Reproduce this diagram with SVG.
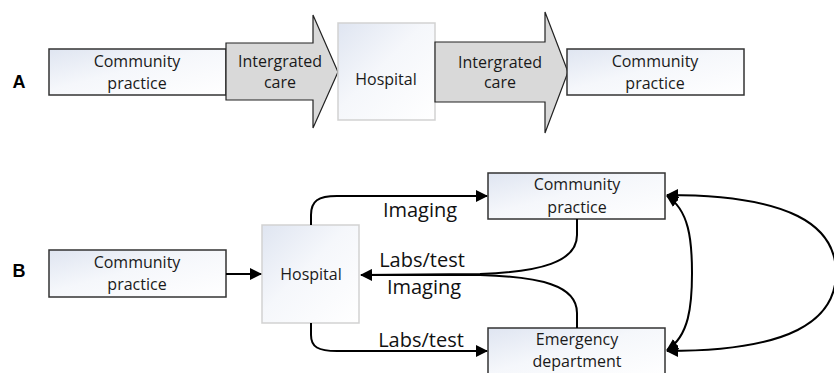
<svg xmlns="http://www.w3.org/2000/svg" width="834" height="373" viewBox="0 0 834 373">
<defs>
<linearGradient id="boxfill" x1="0" y1="0" x2="1" y2="1">
<stop offset="0" stop-color="#dfe5f1"/>
<stop offset="0.45" stop-color="#f5f7fb"/>
<stop offset="1" stop-color="#ffffff"/>
</linearGradient>
<marker id="ah" viewBox="0 0 12 12" refX="11" refY="6" markerWidth="12" markerHeight="12" markerUnits="userSpaceOnUse" orient="auto-start-reverse">
<path d="M0,0 L12,6 L0,12 Z" fill="#000"/>
</marker>
</defs>
<style>
.box{fill:url(#boxfill);stroke:#333;stroke-width:1.5}
.hosp{fill:url(#boxfill);stroke:#d2d2d2;stroke-width:1.5}
.arr{fill:#d9d9d9;stroke:#222;stroke-width:1.2;stroke-linejoin:miter}
.t{font-family:"Open Sans","Liberation Sans",sans-serif;font-size:16px;fill:#1a1a1a;text-anchor:middle}
.lbl{font-family:"Open Sans","Liberation Sans",sans-serif;font-size:20px;fill:#111;text-anchor:middle}
.pl{font-family:"Liberation Sans",Arial,sans-serif;font-size:18px;font-weight:bold;fill:#000;text-anchor:middle}
.c{fill:none;stroke:#000;stroke-width:2}
</style>
<text class="pl" x="19" y="88">A</text>
<text class="pl" x="19" y="277">B</text>
<g id="a-community1">
<rect class="box" x="49" y="49" width="177" height="46"/>
<text class="t" x="137" y="67">Community</text>
<text class="t" x="137" y="89">practice</text>
</g>
<g id="a-integrated1">
<path class="arr" d="M226,43 H313 V15 L338,72 L313,128 V100 H226 Z"/>
<text class="t" x="280" y="67">Intergrated</text>
<text class="t" x="280" y="88">care</text>
</g>
<g id="a-hospital">
<rect class="hosp" x="338" y="23" width="97" height="97"/>
<text class="t" x="386" y="85">Hospital</text>
</g>
<g id="a-integrated2">
<path class="arr" d="M435,42 H545 V12 L568,72 L545,133 V102 H435 Z"/>
<text class="t" x="500" y="68">Intergrated</text>
<text class="t" x="500" y="88">care</text>
</g>
<g id="a-community2">
<rect class="box" x="567" y="49" width="177" height="46"/>
<text class="t" x="655" y="67">Community</text>
<text class="t" x="655" y="89">practice</text>
</g>
<g id="b-community">
<rect class="box" x="49" y="250" width="177" height="47"/>
<text class="t" x="137" y="268">Community</text>
<text class="t" x="137" y="290">practice</text>
</g>
<g id="b-hospital">
<rect class="hosp" x="262" y="225" width="97" height="98"/>
<text class="t" x="311" y="280">Hospital</text>
</g>
<g id="b-community-top">
<rect class="box" x="488" y="173" width="177" height="46"/>
<text class="t" x="577" y="190">Community</text>
<text class="t" x="577" y="213">practice</text>
</g>
<g id="b-emergency">
<rect class="box" x="488" y="328" width="177" height="50"/>
<text class="t" x="577" y="345">Emergency</text>
<text class="t" x="577" y="367">department</text>
</g>
<g id="connectors">
<path class="c" d="M226,274 H261" marker-end="url(#ah)"/>
<path class="c" d="M311,225 V215 C311,201 318,196 337,196 H487" marker-end="url(#ah)"/>
<path class="c" d="M311,323 V335 C311,347 318,351 337,351 H487" marker-end="url(#ah)"/>
<path class="c" d="M577,219 V235 C577,262 540,272 480,274 L361,275" marker-end="url(#ah)"/>
<path class="c" d="M577,328 V313 C577,285 540,277 480,275 L361,275"/>
<path class="c" d="M667,196 C689,210 692,240 692,273 C692,306 689,336 667,350" marker-start="url(#ah)" marker-end="url(#ah)"/>
<path class="c" d="M667,195 C790,195 836,225 836,273 C836,321 790,351 667,351" marker-start="url(#ah)" marker-end="url(#ah)"/>
</g>
<g id="labels">
<text class="lbl" x="420" y="217">Imaging</text>
<text class="lbl" x="422" y="267">Labs/test</text>
<text class="lbl" x="424" y="294">Imaging</text>
<text class="lbl" x="421" y="347">Labs/test</text>
</g>
</svg>
